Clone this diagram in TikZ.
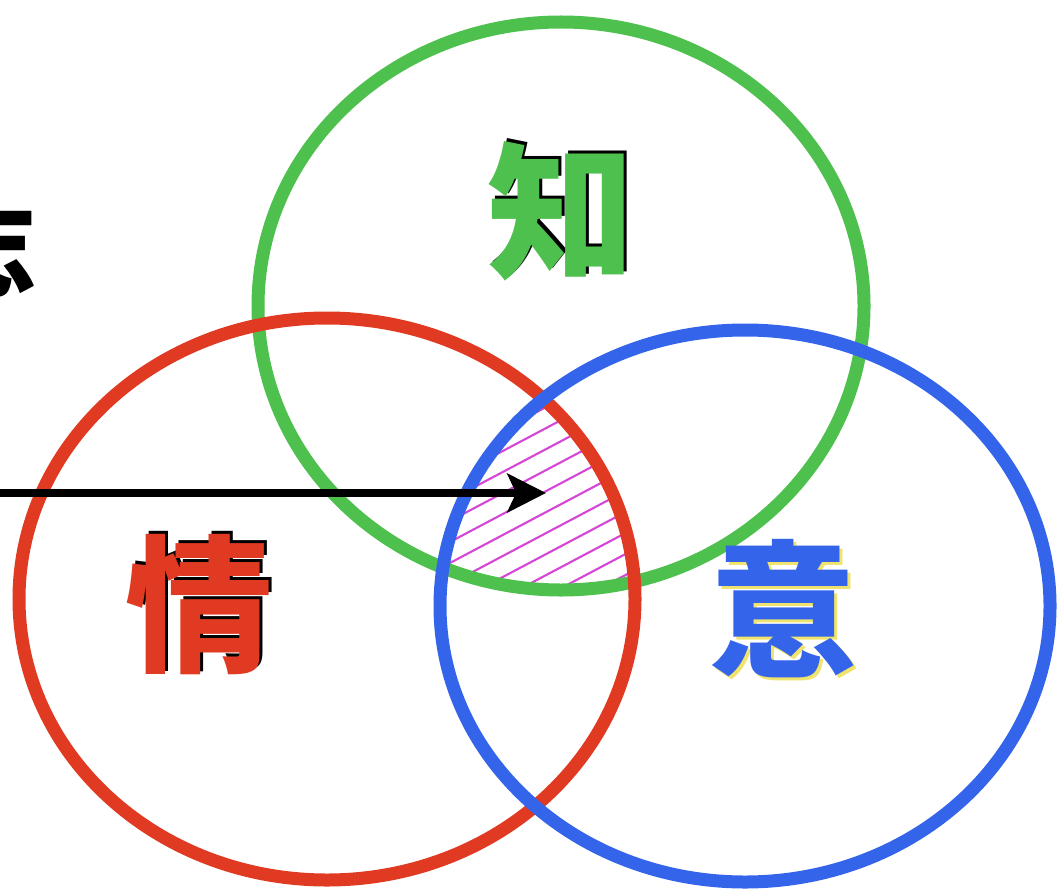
\documentclass[tikz,border=0pt]{standalone}
\usepackage{fontspec}
\newfontfamily\cjk{Noto Sans CJK JP}
\usetikzlibrary{arrows.meta}
\definecolor{cgreen}{RGB}{78,192,78}
\definecolor{cred}{RGB}{224,58,34}
\definecolor{cblue}{RGB}{52,100,234}
\definecolor{chatch}{RGB}{214,70,214}
\definecolor{cyel}{RGB}{240,228,110}
\newcommand{\shadowed}[4]{\rlap{\kern#2\raisebox{#3}{\color{#4}#1}}#1}
\tikzset{
  ring/.style={line width=7.4pt},
  bigchar/.style={font=\cjk\bfseries\fontsize{84}{84}\selectfont, inner sep=0pt},
  hatchline/.style={chatch, line width=1.2pt},
  pointer/.style={line width=4.6pt, -{Stealth[length=22pt,width=22pt,inset=5pt]}}
}
\begin{document}
\begin{tikzpicture}[x=0.02cm,y=-0.02cm]
\useasboundingbox (0,0) rectangle (1060,895);
% hatching of the triple overlap
\begin{scope}
  \clip (561,306) ellipse [x radius=303, y radius=284];
  \clip (327,599) ellipse [x radius=308, y radius=281];
  \clip (745,606) ellipse [x radius=305, y radius=276];
  \foreach \k in {0,...,18}{
    \draw[hatchline] (380,560+21*\k-170) -- (720,560+21*\k-350);
  }
\end{scope}
% circles
\draw[ring, cgreen] (561,306) ellipse [x radius=303, y radius=284];
\draw[ring, cred]   (327,599) ellipse [x radius=308, y radius=281];
\draw[ring, cblue]  (745,606) ellipse [x radius=305, y radius=276];
% labels with shadows
\node[bigchar, cgreen] (zhi) at (561,210) {\shadowed{知}{1.7pt}{1.7pt}{black}};
\node[bigchar, cred] (qing) at (199,603) {\shadowed{情}{1.7pt}{1.7pt}{black}};
\node[bigchar, cblue] (yi) at (783,610) {\shadowed{意}{1.7pt}{-1.7pt}{cyel}};
% partial character at the left edge
\node[font=\cjk\bfseries\fontsize{60}{60}\selectfont, inner sep=0pt, anchor=east, black] (cut) at (37,248) {志};
% arrow
\coordinate (arrstart) at (0,493);
\coordinate (arrend) at (546,493);
\draw[pointer] (arrstart) -- (arrend);
\end{tikzpicture}
\end{document}
